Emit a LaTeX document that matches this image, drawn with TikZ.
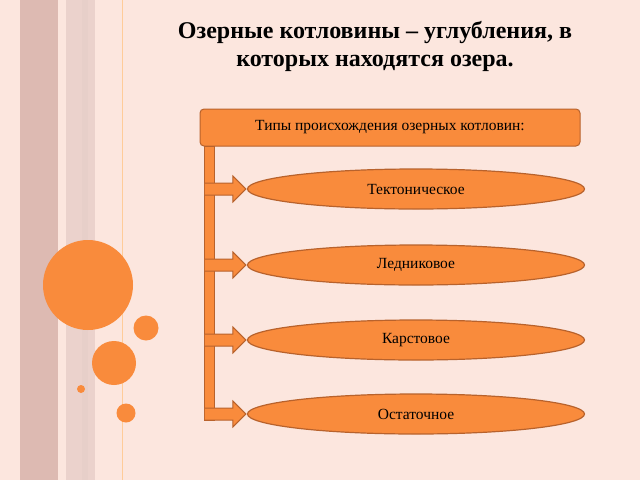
\documentclass[tikz,border=0pt]{standalone}
\usepackage{fontspec}
\setmainfont{Liberation Serif}
\usetikzlibrary{calc,shapes.geometric}
\definecolor{bg}{HTML}{FCE6DE}
\definecolor{org}{HTML}{F98B3C}
\definecolor{edge}{HTML}{B8622C}
\definecolor{stripeA}{HTML}{DDBAB2}
\definecolor{stripeB}{HTML}{EBD2CC}
\tikzset{
  oval/.style={ellipse, draw=edge, line width=1.2pt, fill=org, minimum width=337pt, minimum height=40pt, font=\fontsize{15.5}{18}\selectfont},
  part/.style={draw=edge, line width=1pt, fill=org},
  dot/.style={fill=org, draw=none}
}
\begin{document}
\begin{tikzpicture}[x=1pt,y=-1pt]
\useasboundingbox (0,0) rectangle (640,480);
\fill[bg] (0,0) rectangle (640,480);
\fill[stripeA] (20,0) rectangle (58,480);
\fill[stripeB] (66,0) rectangle (95,480);
\fill[stripeA!70] (82,0) rectangle (88,480);
\draw[orange!40, line width=0.8pt] (122,0) -- (122,480);
\fill[dot] (88,285) circle (45);
\fill[dot] (146,328) circle (12.5);
\fill[dot] (114,363) circle (22);
\fill[dot] (81,389) circle (4);
\fill[dot] (126,413) circle (9.5);
\node[font=\bfseries\fontsize{24}{28}\selectfont, align=center] (title) at (375,46) {Озерные котловины – углубления, в\\которых находятся озера.};
\node[part, rounded corners=4pt, minimum width=380pt, minimum height=37pt, font=\fontsize{15.5}{18}\selectfont] (head) at (390,127.5) {Типы происхождения озерных котловин:};
\node[oval] (e1) at (416,189) {Тектоническое};
\node[oval] (e2) at (416,265) {Ледниковое};
\node[oval] (e3) at (416,340) {Карстовое};
\node[oval] (e4) at (416,414) {Остаточное};
\draw[part] ($(head.south west)+(5,0)$) rectangle ($(e4.west)+(-32,6)$);
\foreach \e in {e1,e2,e3,e4}{
  \draw[part] ($(\e.west)+(-42,-6)$) -- ($(\e.west)+(-14,-6)$) -- ($(\e.west)+(-14,-13)$) -- ($(\e.west)+(-1,0)$) -- ($(\e.west)+(-14,13)$) -- ($(\e.west)+(-14,6)$) -- ($(\e.west)+(-42,6)$);
}
\end{tikzpicture}
\end{document}
